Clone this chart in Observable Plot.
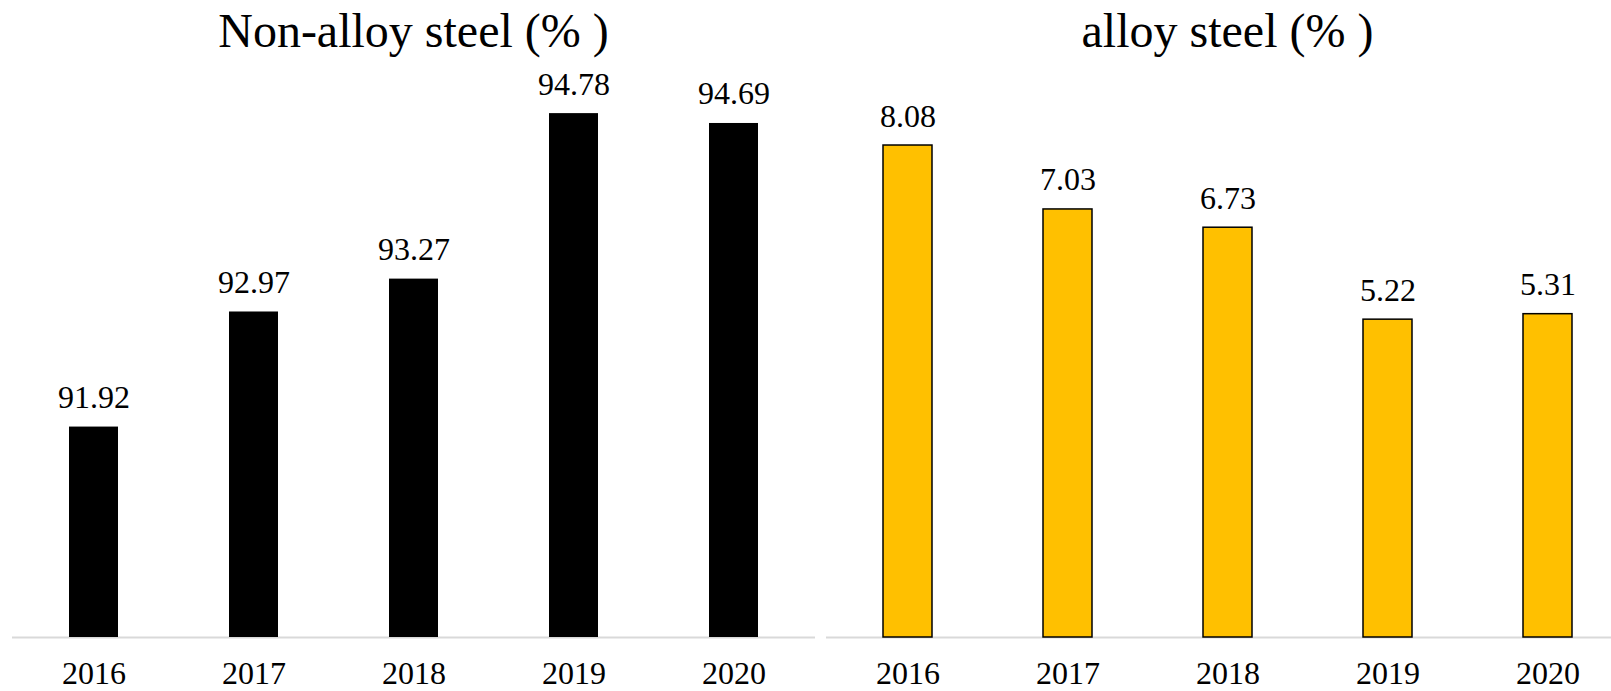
<!DOCTYPE html>
<html>
<head>
<meta charset="utf-8">
<script src="https://cdn.jsdelivr.net/npm/d3@7"></script>
<script src="https://cdn.jsdelivr.net/npm/@observablehq/plot@0.6"></script>
<style>
  html, body { margin: 0; padding: 0; background: #fff; overflow: hidden; width: 1611px; height: 691px; }
  .panel { position: absolute; top: 0; }
  .title { position: absolute; top: 7px; left: 0; right: 0; text-align: center;
           font-family: "Liberation Serif", serif; font-size: 48px; line-height: 48px; color: #000; white-space: pre; }
  .chart { position: absolute; top: 60px; left: 0; }
  svg text { font-family: "Liberation Serif", serif; }
</style>
</head>
<body>
<div id="left" class="panel" style="left:0px;width:827px;height:691px;"><div class="title">Non-alloy steel (% )</div><div class="chart"></div></div>
<div id="right" class="panel" style="left:820px;width:820px;height:691px;"><div class="title" style="right:0;width:815px;">alloy steel (% )</div><div class="chart"></div></div>
<script>
const years = ["2016", "2017", "2018", "2019", "2020"];
const nonAlloy = [91.92, 92.97, 93.27, 94.78, 94.69];
const alloy = [8.08, 7.03, 6.73, 5.22, 5.31];
const nonAlloyDomain = [90, 95];
const alloyDomain = [0, 9];

const font = "Liberation Serif";

function panel(values, domain, fill, stroke, marginLeft, width) {
  const data = years.map((y, i) => ({year: y, value: values[i]}));
  return Plot.plot({
    width,
    height: 631,
    marginTop: 29,
    marginBottom: 54,
    marginLeft,
    marginRight: width - marginLeft - 803,
    style: {fontFamily: font, background: "transparent", overflow: "visible"},
    x: {domain: years, paddingInner: 0.693, paddingOuter: 0.3465, label: null},
    y: {domain, axis: null},
    marks: [
      Plot.ruleY([domain[0]], {stroke: "#d9d9d9", strokeWidth: 2}),
      Plot.barY(data, {x: "year", y1: domain[0], y2: "value", fill, stroke, strokeWidth: stroke === "none" ? 0 : 1.5}),
      Plot.text(data, {x: "year", y: "value", text: d => d.value.toFixed(2), dy: -19, lineAnchor: "bottom", fontSize: 32, fontFamily: font, fill: "#000"}),
      Plot.axisX({tickSize: 0, tickPadding: 24, fontSize: 32, fontFamily: font, fill: "#000", label: null})
    ]
  });
}

document.querySelector("#left .chart").append(panel(nonAlloy, nonAlloyDomain, "#000000", "none", 12, 827));
document.querySelector("#right .chart").append(panel(alloy, alloyDomain, "#FFC000", "#000000", 6, 809));
</script>
</body>
</html>
